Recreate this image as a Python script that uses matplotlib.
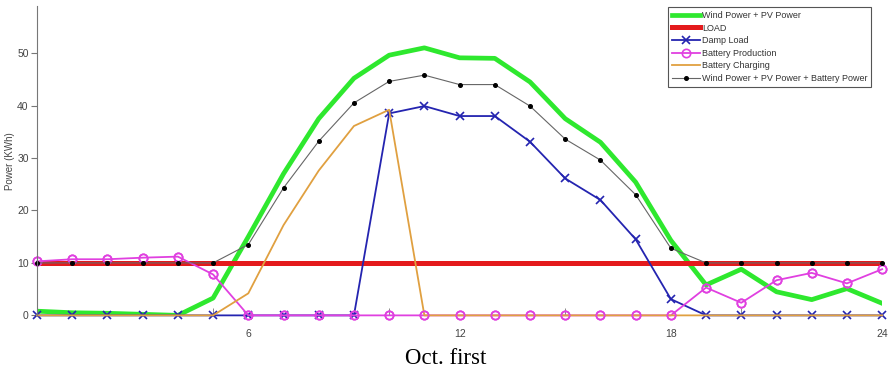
import numpy as np
import matplotlib
matplotlib.use("Agg")
import matplotlib.pyplot as plt

plt.rcParams["font.family"] = ["Liberation Sans", "DejaVu Sans"]

# Data (hourly, Oct. first)
hours = list(range(25))
wind_pv = [0.8, 0.5, 0.4, 0.2, 0.0, 3.3, 15.0, 27.0, 37.5, 45.2, 49.6, 51.0, 49.1,
           49.0, 44.5, 37.5, 33.0, 25.4, 14.3, 5.8, 8.8, 4.5, 3.0, 5.1, 2.3]
load = [10] * 25
damp_load = [0, 0, 0, 0, 0, 0, 0, 0, 0, 0, 38.5, 39.9, 38.0,
             38.0, 33.1, 26.1, 22.0, 14.5, 3.1, 0, 0, 0, 0, 0, 0]
battery_prod = [10.3, 10.7, 10.7, 11.0, 11.2, 7.8, 0, 0, 0, 0, 0, 0, 0,
                0, 0, 0, 0, 0, 0, 5.3, 2.4, 6.7, 8.1, 6.1, 8.8]
battery_chg = [0, 0, 0, 0, 0, 0, 4.2, 17.2, 27.6, 36.1, 39.2, 0, 0,
               0, 0, 0, 0, 0, 0, 0, 0, 0, 0, 0, 0]
total = [10, 10, 10, 10, 10, 10, 13.5, 24.3, 33.2, 40.5, 44.6, 45.8, 44.0,
         44.0, 39.9, 33.6, 29.6, 23.0, 12.8, 10, 10, 10, 10, 10, 10]

fig = plt.figure(figsize=(8.88, 3.68), dpi=100)
ax = fig.add_axes([0.0417, 0.143, 0.9517, 0.841])

ax.plot(hours, wind_pv, color="#2ee82e", lw=3.4, label="Wind Power + PV Power")
ax.plot(hours, load, color="#e41a1c", lw=3.6, label="LOAD")
ax.plot(hours, damp_load, color="#2424b0", lw=1.3, marker="x", ms=6, mew=1.2,
        label="Damp Load", clip_on=False)
ax.plot(hours, battery_prod, color="#e040e0", lw=1.3, marker="o", ms=6,
        mfc="none", mew=1.2, label="Battery Production", clip_on=False)
ax.plot(hours, battery_chg, color="#e0a040", lw=1.3, label="Battery Charging",
        clip_on=False)
# battery production markers stay visible over the charging line
ax.plot(hours, battery_prod, ls="none", marker="o", ms=6, mfc="none", mew=1.2,
        mec="#e040e0", clip_on=False)
ax.plot(hours, total, color="#666666", lw=0.8, marker="o", ms=2.6, mfc="black",
        mec="black", label="Wind Power + PV Power + Battery Power", clip_on=False)

ax.set_xlim(0, 24)
ax.set_ylim(0, 59)
ax.set_yticks([0, 10, 20, 30, 40, 50])
ax.set_xticks([6, 12, 18, 24])
ax.set_xticks([5, 10, 15, 20], minor=True)
ax.tick_params(axis="x", which="major", length=0, pad=10, labelsize=7.5, labelcolor="#444444")
ax.tick_params(axis="x", which="minor", length=5, direction="in", color="#777777")
ax.tick_params(axis="y", length=4, direction="out", labelsize=7.5, labelcolor="#444444",
               color="#777777", pad=2)

for s in ["top", "right", "bottom"]:
    ax.spines[s].set_visible(False)
ax.spines["left"].set_color("#777777")

ax.set_ylabel("Power (KWh)", fontsize=7, color="#444444")
ax.yaxis.set_label_coords(-0.026, 0.5)
ax.set_xlabel("Oct. first", fontsize=16.5, family="Liberation Serif")
ax.xaxis.set_label_coords(0.484, -0.105)

leg = ax.legend(loc="upper right", bbox_to_anchor=(0.992, 1.01), fontsize=6.5,
                handlelength=3.2, handletextpad=0.15, borderpad=0.4,
                labelspacing=0.4, fancybox=False, framealpha=1)
leg.get_frame().set_edgecolor("#555555")
leg.get_frame().set_linewidth(0.8)
for t in leg.get_texts():
    t.set_color("#333333")

fig.savefig("out.png", dpi=100)
